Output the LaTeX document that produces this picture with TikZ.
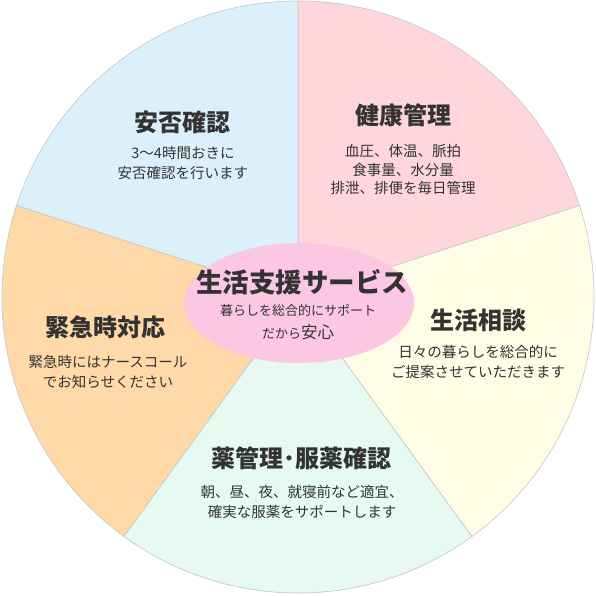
\documentclass[tikz,border=0pt]{standalone}
\usepackage{fontspec}
\usepackage{xcolor}
\usepackage{tikz}
\usetikzlibrary{calc}
\setmainfont{Noto Sans CJK JP}
\definecolor{inkgray}{HTML}{333333}
\definecolor{rimgray}{HTML}{CACACA}
\definecolor{healthpink}{HTML}{FFD6DB}
\definecolor{safeblue}{HTML}{DCF0FC}
\definecolor{talkcream}{HTML}{FFFDE6}
\definecolor{medmint}{HTML}{E6FAF1}
\definecolor{sospeach}{HTML}{FFD9A8}
\definecolor{hubpink}{HTML}{FCC7E2}
\tikzset{slice/.style={draw=rimgray,line width=0.7pt},
  title/.style={inkgray,font=\bfseries\fontsize{24}{28}\selectfont},
  body/.style={inkgray,align=center,font=\fontsize{14.5}{20}\selectfont}}
\begin{document}
\begin{tikzpicture}[x=1pt,y=1pt]
\useasboundingbox (-298,-299) rectangle (298,297);
\coordinate (O) at (0,0);
\fill[white] (-298,-299) rectangle (298,297);
\draw[slice,fill=healthpink] (O) -- (18:296) arc (18:90:296) -- cycle;
\draw[slice,fill=safeblue] (O) -- (90:296) arc (90:162:296) -- cycle;
\draw[slice,fill=sospeach] (O) -- (162:296) arc (162:234:296) -- cycle;
\draw[slice,fill=medmint] (O) -- (234:296) arc (234:306:296) -- cycle;
\draw[slice,fill=talkcream] (O) -- (306:296) arc (306:378:296) -- cycle;
\fill[hubpink] (1,-6) ellipse [x radius=115, y radius=60];
% sectors
\node[title] (safeT) at (-115,175) {安否確認};
\node[body] (safeB) at (-115,134) {3〜4時間おきに\\安否確認を行います};
\node[title] (healthT) at (105,182) {健康管理};
\node[body,font=\fontsize{14.5}{18.5}\selectfont] (healthB) at (105,127) {血圧、体温、脈拍\\食事量、水分量\\排泄、排便を毎日管理};
\node[title] (talkT) at (180,-23) {生活相談};
\node[body] (talkB) at (180,-65) {日々の暮らしを総合的に\\ご提案させていただきます};
\node[title] (sosT) at (-192,-30) {緊急時対応};
\node[body] (sosB) at (-190,-75) {緊急時にはナースコール\\でお知らせください};
\node[title] (medT) at (3,-161) {薬管理･服薬確認};
\node[body] (medB) at (4,-205) {朝、昼、夜、就寝前など適宜、\\確実な服薬をサポートします};
% hub
\node[inkgray,font=\bfseries\fontsize{26.5}{30}\selectfont] (hubT) at (4,15) {生活支援サービス};
\node[inkgray,font=\fontsize{13}{15}\selectfont] (hubB) at (0,-14) {暮らしを総合的にサポート};
\node[inkgray,font=\fontsize{13}{15}\selectfont] (hubC) at (0,-35) {だから{\fontsize{16.5}{20}\selectfont 安心}};
\end{tikzpicture}
\end{document}
